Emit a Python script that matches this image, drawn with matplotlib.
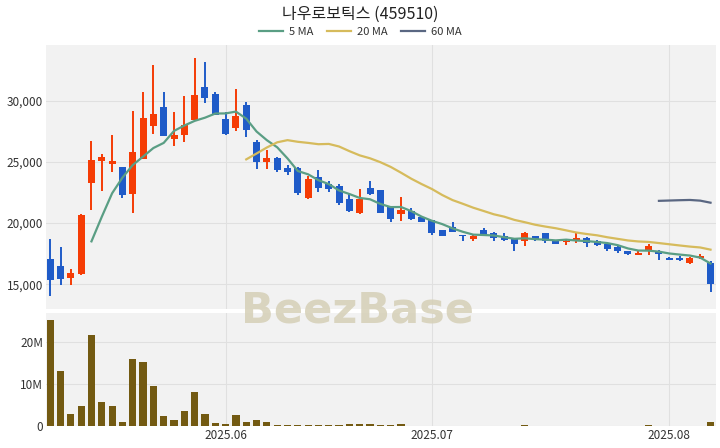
import numpy as np
import pandas as pd
import matplotlib.pyplot as plt
from matplotlib.ticker import FuncFormatter

plt.rcParams['font.family'] = ['Noto Sans CJK KR', 'DejaVu Sans']

dates = ["2025-05-08", "2025-05-09", "2025-05-12", "2025-05-13", "2025-05-14", "2025-05-15",
         "2025-05-16", "2025-05-19", "2025-05-20", "2025-05-21", "2025-05-22", "2025-05-23",
         "2025-05-26", "2025-05-27", "2025-05-28", "2025-05-29", "2025-05-30",
         "2025-06-02", "2025-06-03", "2025-06-04", "2025-06-05", "2025-06-09", "2025-06-10",
         "2025-06-11", "2025-06-12", "2025-06-13", "2025-06-16", "2025-06-17", "2025-06-18",
         "2025-06-19", "2025-06-20", "2025-06-23", "2025-06-24", "2025-06-25", "2025-06-26",
         "2025-06-27", "2025-06-30",
         "2025-07-01", "2025-07-02", "2025-07-03", "2025-07-04", "2025-07-07", "2025-07-08",
         "2025-07-09", "2025-07-10", "2025-07-11", "2025-07-14", "2025-07-15", "2025-07-16",
         "2025-07-17", "2025-07-18", "2025-07-21", "2025-07-22", "2025-07-23", "2025-07-24",
         "2025-07-25", "2025-07-28", "2025-07-29", "2025-07-30", "2025-07-31",
         "2025-08-01", "2025-08-04", "2025-08-05", "2025-08-06", "2025-08-07"]

opens = [17050, 16450, 15500, 15800, 23300, 25050, 24850, 24550, 22400, 25250,
         27950, 29500, 26900, 27200, 28400, 31150, 30550, 28500, 27800, 29650,
         26600, 24950, 25350, 24500, 24500, 22050, 23800, 23150, 23050, 22000,
         20800, 22850, 22700, 21300, 20700, 21000, 20500, 20250, 19400, 19700,
         19000, 18700, 19400, 19200, 18950, 18750, 18550, 18950, 19150, 18600,
         18450, 18550, 18800, 18550, 18300, 18050, 17700, 17350, 17700, 17750,
         17100, 17150, 16700, 17100, 16700]
highs = [18700, 18000, 16250, 20700, 26700, 25650, 27200, 24600, 29150, 30750,
         32900, 30700, 29050, 30400, 33500, 33150, 30750, 29100, 30950, 29900,
         26800, 26000, 25400, 24750, 24550, 23850, 24350, 23450, 23150, 22450,
         22750, 23400, 22700, 21300, 22100, 21200, 20550, 20250, 19450, 20100,
         19050, 19000, 19600, 19250, 19150, 18800, 19250, 18950, 19200, 18600,
         18650, 19150, 18850, 18600, 18350, 18100, 17750, 17700, 18300, 17800,
         17250, 17300, 17200, 17500, 16900]
lows = [14050, 14900, 14900, 15750, 21050, 22600, 24150, 22050, 20800, 25200,
        27250, 27100, 26300, 26600, 28350, 29850, 28800, 27200, 27550, 27050,
        24400, 24450, 24200, 23950, 22250, 22000, 22550, 22500, 21500, 20900,
        20700, 22250, 20800, 20050, 20200, 20250, 20050, 19000, 18950, 19250,
        18550, 18500, 18950, 18550, 18550, 17750, 18150, 18500, 18350, 18300,
        18200, 18400, 18050, 18150, 17750, 17550, 17400, 17350, 17350, 16950,
        16950, 16900, 16650, 17050, 14400]
closes = [15350, 15450, 15900, 20650, 25150, 25400, 25050, 22300, 25800, 28600,
          28900, 27150, 27200, 28000, 30500, 30200, 28850, 27250, 28750, 27600,
          24950, 25300, 24350, 24200, 22450, 23600, 22900, 22750, 21600, 21000,
          22000, 22350, 20850, 20300, 21050, 20300, 20100, 19150, 18950, 19300,
          18900, 18950, 19000, 18750, 18600, 18250, 19150, 18650, 18550, 18300,
          18550, 18800, 18400, 18200, 17850, 17700, 17450, 17550, 18150, 17450,
          16950, 17000, 17150, 17300, 15050]
volumes = [25.3, 13.1, 2.8, 4.9, 21.8, 5.7, 4.7, 1.0, 16.1, 15.3,
           9.6, 2.5, 1.4, 3.6, 8.2, 2.9, 0.7, 0.55, 2.7, 0.85,
           1.4, 0.95, 0.3, 0.3, 0.3, 0.3, 0.3, 0.2, 0.3, 0.6,
           0.6, 0.5, 0.15, 0.15, 0.6, 0.1, 0.12, 0.08, 0.1, 0.06,
           0.08, 0.1, 0.06, 0.08, 0.1, 0.12, 0.15, 0.1, 0.06, 0.05,
           0.06, 0.12, 0.08, 0.06, 0.05, 0.06, 0.1, 0.12, 0.15, 0.08,
           0.06, 0.05, 0.06, 0.08, 1.0]

df = pd.DataFrame({"date": pd.to_datetime(dates), "open": opens, "high": highs,
                   "low": lows, "close": closes, "volume": np.array(volumes) * 1e6})
x = np.arange(len(df))
up = df["close"] >= df["open"]

RED = "#f53c05"
BLUE = "#1f5bc8"
BG = "#f2f2f2"
GRID = "#e0e0e0"

fig = plt.figure(figsize=(7.2, 4.48), dpi=100)
ax = fig.add_axes([0.064, 0.310, 0.930, 0.590])
axv = fig.add_axes([0.064, 0.049, 0.930, 0.252], sharex=ax)

for a in (ax, axv):
    a.set_facecolor(BG)
    for s in a.spines.values():
        s.set_visible(False)
    a.grid(True, color=GRID, linewidth=0.8)
    a.set_axisbelow(True)
    a.tick_params(length=0, labelsize=8.5, colors="#333333")

# candles
colors = np.where(up, RED, BLUE)
ax.vlines(x, df["low"], df["high"], color=colors, linewidth=1.4, zorder=2)
body_low = np.minimum(df["open"], df["close"])
body_h = np.maximum(np.abs(df["close"] - df["open"]), 40)
ax.bar(x, body_h, bottom=body_low, width=0.68, color=colors, zorder=3)

# moving averages
ma5 = df["close"].rolling(5).mean()
ma20 = df["close"].rolling(20).mean()
ma60 = df["close"].rolling(60).mean()
l5, = ax.plot(x, ma5, color="#5a9e84", linewidth=1.6, label="5 MA", zorder=4)
l20, = ax.plot(x, ma20, color="#d6bb5c", linewidth=1.6, label="20 MA", zorder=4)
l60, = ax.plot(x, ma60, color="#5a6782", linewidth=1.6, label="60 MA", zorder=4)

ax.set_ylim(12960, 34570)
ax.set_yticks([15000, 20000, 25000, 30000])
ax.yaxis.set_major_formatter(FuncFormatter(lambda v, p: f"{v:,.0f}"))
ax.tick_params(labelbottom=False, pad=2)

# volume
axv.bar(x, df["volume"], width=0.7, color="#735a12", zorder=3)
axv.set_ylim(0, 27e6)
axv.set_yticks([0, 10e6, 20e6])
axv.yaxis.set_major_formatter(FuncFormatter(lambda v, p: "0" if v == 0 else f"{v/1e6:.0f}M"))
axv.tick_params(pad=2)

# month ticks at first trading day of each month
months = df["date"].dt.to_period("M")
first_idx = [i for i in range(len(df)) if i > 0 and months[i] != months[i - 1]]
axv.set_xticks(first_idx)
axv.set_xticklabels([df["date"][i].strftime("%Y.%m") for i in first_idx])
ax.set_xlim(-0.4, 64.5)

fig.text(0.5, 0.968, "나우로보틱스 (459510)", ha="center", va="center", fontsize=11.5, color="#222222")
fig.legend(handles=[l5, l20, l60], loc="center", bbox_to_anchor=(0.5, 0.928), ncol=3,
           frameon=False, fontsize=8, handlelength=2.2, columnspacing=1.2, handletextpad=0.5,
           labelcolor="#333333")

fig.text(0.497, 0.308, "BeezBase", ha="center", va="center", fontsize=31, fontweight="bold",
         color="#d5cfb6", alpha=0.85, family="DejaVu Sans", zorder=10)

fig.savefig("out.png", dpi=100)
